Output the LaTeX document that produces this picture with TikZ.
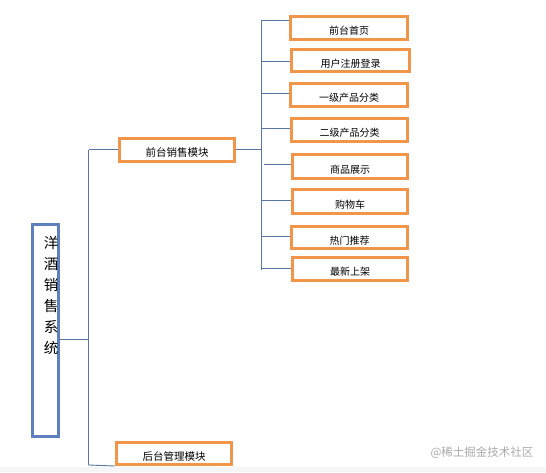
\documentclass[tikz,border=0pt]{standalone}
\usepackage{fontspec}
\newfontfamily\cjk{Noto Sans CJK SC}
\definecolor{boxorange}{RGB}{241,150,72}
\definecolor{rootblue}{RGB}{95,128,190}
\definecolor{linkblue}{RGB}{88,118,165}
\definecolor{wmgray}{RGB}{170,170,170}
\tikzset{
  cbox/.style={draw=boxorange, line width=3pt, fill=white, inner sep=0pt,
    font=\cjk\fontsize{10}{12}\selectfont},
  rootbox/.style={draw=rootblue, line width=3pt, fill=white, inner sep=0pt},
  link/.style={draw=linkblue, line width=0.9pt},
}
\newcommand{\lowtxt}[1]{\raisebox{-6.5pt}[0pt][0pt]{#1}}
\begin{document}
\begin{tikzpicture}[x=1pt,y=-1pt]
\useasboundingbox (0,0) rectangle (546,472);
\fill[gray!7] (0,467) rectangle (546,472);

% root
\node[rootbox, minimum width=26pt, minimum height=212pt] (root) at (45.5,330.5) {};
\node[font=\cjk\fontsize{14.5}{21}\selectfont, align=center, inner sep=0pt] (roottxt) at (51,295)
  {洋\\酒\\销\\售\\系\\统};

% middle level
\node[cbox, minimum width=115pt, minimum height=23pt, font=\cjk\fontsize{10.5}{12}\selectfont] (front) at (177,149.7) {\lowtxt{前台销售模块}};
\node[cbox, minimum width=115pt, minimum height=22pt, font=\cjk\fontsize{10.5}{12}\selectfont] (back) at (174,453.5) {\lowtxt{后台管理模块}};

% children
\node[cbox, minimum width=117pt, minimum height=23pt] (c1) at (349,28) {\lowtxt{前台首页}};
\node[cbox, minimum width=118pt, minimum height=22pt] (c2) at (350.5,60.5) {\lowtxt{用户注册登录}};
\node[cbox, minimum width=117pt, minimum height=23pt] (c3) at (349,95) {\lowtxt{一级产品分类}};
\node[cbox, minimum width=116pt, minimum height=23pt] (c4) at (349.5,130) {\lowtxt{二级产品分类}};
\node[cbox, minimum width=115pt, minimum height=24pt] (c5) at (350,166.5) {\lowtxt{商品展示}};
\node[cbox, minimum width=115pt, minimum height=24pt] (c6) at (350,201.5) {\lowtxt{购物车}};
\node[cbox, minimum width=116pt, minimum height=22pt] (c7) at (349.5,237.5) {\lowtxt{热门推荐}};
\node[cbox, minimum width=115pt, minimum height=23pt] (c8) at (350,269) {\lowtxt{最新上架}};

% trunk coordinates
\coordinate (rootout) at (59,339);
\coordinate (t1top) at (88.5,149.7);
\coordinate (t1mid) at (88.5,339);
\coordinate (t1bot) at (88.5,465);
\coordinate (t2top) at (261,20);
\coordinate (t2bot) at (261,270);
\coordinate (b1) at (261,20);
\coordinate (b2) at (261,61.5);
\coordinate (b3) at (261,93);
\coordinate (b4) at (261,128);
\coordinate (b5) at (264,164);
\coordinate (b6) at (261,200);
\coordinate (b7) at (261,236);
\coordinate (b8) at (261,268);

% connectors
\draw[link] (rootout) -- (t1mid);
\draw[link] (t1top) -- (t1bot);
\draw[link] (t1top) -- (front.west);
\draw[link] (t1bot) -- (back.south west);
\draw[link] (front.east) -- (front.east -| t2top);
\draw[link] (t2top) -- (t2bot);
\draw[link] (b1) -- (b1 -| c1.west);
\draw[link] (b2) -- (b2 -| c2.west);
\draw[link] (b3) -- (b3 -| c3.west);
\draw[link] (b4) -- (b4 -| c4.west);
\draw[link] (b5) -- (b5 -| c5.west);
\draw[link] (b6) -- (b6 -| c6.west);
\draw[link] (b7) -- (b7 -| c7.west);
\draw[link] (b8) -- (b8 -| c8.west);

% watermark
\node[font=\cjk\fontsize{11.5}{12}\selectfont, text=wmgray, inner sep=0pt] (wm) at (482,452.5) {@稀土掘金技术社区};
\end{tikzpicture}
\end{document}
